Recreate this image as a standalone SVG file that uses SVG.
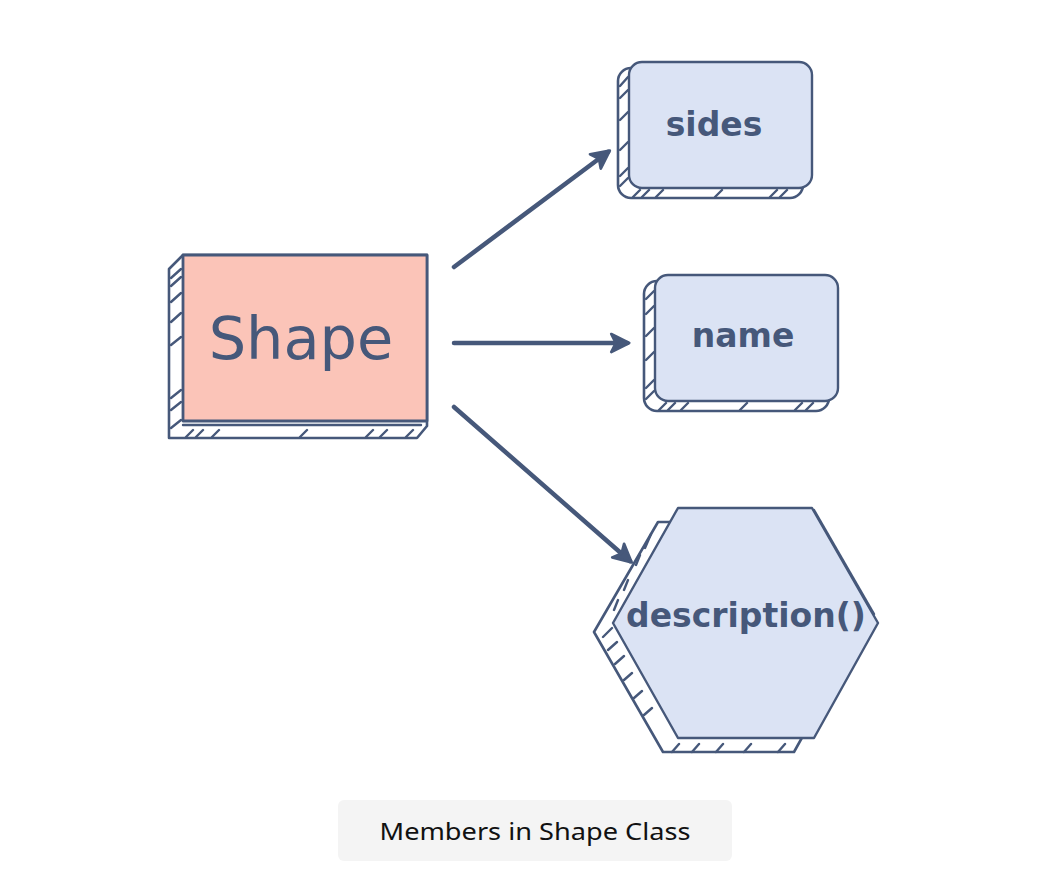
<svg xmlns="http://www.w3.org/2000/svg" width="1042" height="886" viewBox="0 0 1042 886">
<defs>
<style>
.ln{fill:none;stroke:#46587a;stroke-width:2.4;stroke-linecap:round;stroke-linejoin:round}
.back{fill:#ffffff;stroke:#46587a;stroke-width:2.6;stroke-linejoin:round}
.blue{fill:#dbe3f4;stroke:#46587a;stroke-width:2.4;stroke-linejoin:round}
.pink{fill:#fbc4b8;stroke:#46587a;stroke-width:2.8;stroke-linejoin:round}
.lbl{font-family:"DejaVu Sans",Verdana,sans-serif;font-weight:bold;font-size:33px;fill:#46587a;text-anchor:middle}
.conn{fill:none;stroke:#46587a;stroke-width:4.5;stroke-linecap:round}
</style>
<marker id="ah" viewBox="0 0 10 10" refX="8" refY="5" markerWidth="5" markerHeight="5" orient="auto" markerUnits="strokeWidth">
<path d="M1,1 L9,5 L1,9 L3,5 Z" fill="#46587a" stroke="#46587a" stroke-width="1.2" stroke-linejoin="round"/>
</marker>
</defs>
<rect width="1042" height="886" fill="#ffffff"/>
<g id="connectors">
<line class="conn" x1="454" y1="267" x2="608" y2="152" marker-end="url(#ah)"/>
<line class="conn" x1="454" y1="343" x2="627" y2="343" marker-end="url(#ah)"/>
<line class="conn" x1="454" y1="407" x2="630" y2="561" marker-end="url(#ah)"/>
</g>
<g id="node-shape">
<path class="back" d="M183,255 L169,269 L169,438 L417,438 L427,426 L427,255 Z"/>
<path class="ln" d="M183,425 L421,425"/>
<path class="ln" d="M171,278 L181,269 M171,286 L181,277 M171,302 L181,293 M171,322 L181,313 M171,345 L181,337 M171,398 L181,390 M171,410 L181,402 M171,428 L181,420 M186,437 L193,430 M196,437 L203,430 M212,437 L219,430 M300,437 L307,430 M366,437 L373,430 M380,437 L387,430 M406,437 L413,430"/>
<rect class="pink" x="183" y="255" width="244" height="166"/>
<text x="301" y="359" font-family="DejaVu Sans,Verdana,sans-serif" font-size="59" fill="#46587a" text-anchor="middle">Shape</text>
</g>
<g id="node-sides">
<rect class="back" x="618" y="68" width="185" height="130" rx="13"/>
<path class="ln" d="M620,86 L628,77 M620,98 L628,90 M620,120 L628,112 M620,150 L628,142 M620,176 L628,168 M620,186 L628,178 M633,197 L640,190 M642,197 L649,190 M656,197 L663,190 M715,197 L722,190 M770,197 L777,190 M780,197 L787,190"/>
<rect class="blue" x="629" y="62" width="183" height="126" rx="13"/>
<text class="lbl" x="714" y="136">sides</text>
</g>
<g id="node-name">
<rect class="back" x="644" y="281" width="185" height="130" rx="13"/>
<path class="ln" d="M646,299 L654,291 M646,314 L654,306 M646,336 L654,328 M646,360 L654,352 M646,388 L654,380 M646,399 L654,391 M659,410 L666,403 M668,410 L675,403 M681,410 L688,403 M740,410 L747,403 M795,410 L802,403 M806,410 L813,403"/>
<rect class="blue" x="655" y="275" width="183" height="126" rx="13"/>
<text class="lbl" x="743" y="347">name</text>
</g>
<g id="node-description">
<polygon class="back" points="658,522 792,522 858,637 794,752 663,752 594,632"/>
<path class="ln" d="M651,534 L645,548 M640,555 L636,565 M628,580 L624,590 M618,600 L614,610 M603,637 L612,628 M608,650 L617,642 M615,664 L624,656 M624,680 L632,673 M634,698 L642,691 M644,715 L652,708 M672,752 L679,744 M692,752 L699,744 M716,752 L723,744 M744,752 L751,744 M778,752 L785,744"/>
<polygon class="blue" points="678,508 812,508 878,623 814,738 678,738 613,623"/>
<path class="ln" d="M814,510 L874,614" stroke-width="3.6"/>
<text class="lbl" x="746" y="627">description()</text>
</g>
<g id="caption">
<rect x="338" y="800" width="394" height="61" rx="6" fill="#f4f4f4"/>
<text x="535" y="840" font-family="'Noto Sans','Open Sans',sans-serif" font-size="24" fill="#111111" text-anchor="middle" textLength="311" lengthAdjust="spacingAndGlyphs">Members in Shape Class</text>
</g>
</svg>
